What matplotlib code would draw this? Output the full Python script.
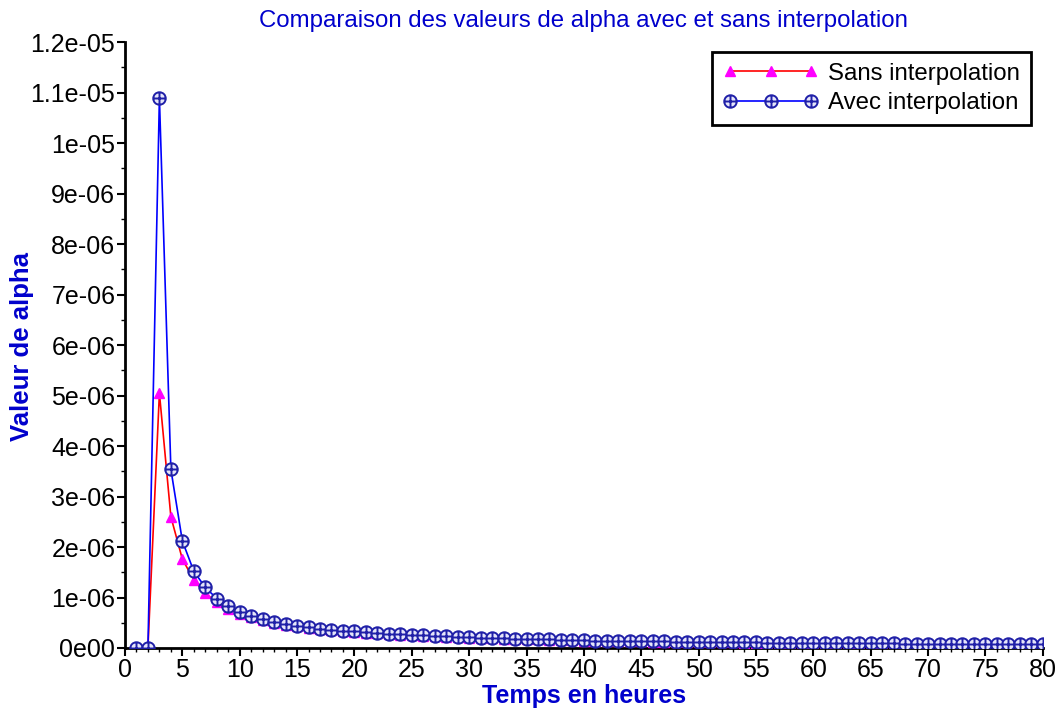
import matplotlib
matplotlib.use("Agg")
import matplotlib.pyplot as plt
import numpy as np
from matplotlib.path import Path
from matplotlib.ticker import MultipleLocator, FuncFormatter

# hours 1..80, alpha values in units of 1e-6
hours = list(range(1, 81))

alpha_sans = [
    0.0, 0.0, 5.05, 2.60, 1.76, 1.35, 1.08, 0.91, 0.77, 0.68,
    0.61, 0.555, 0.50, 0.46, 0.43, 0.40, 0.375, 0.352, 0.333, 0.318,
    0.305, 0.29, 0.277, 0.265, 0.255, 0.245, 0.235, 0.226, 0.217, 0.207,
    0.201, 0.196, 0.186, 0.181, 0.176, 0.171, 0.166, 0.156, 0.151, 0.146,
    0.143, 0.140, 0.137, 0.134, 0.131, 0.128, 0.125, 0.122, 0.119, 0.116,
    0.114, 0.112, 0.110, 0.108, 0.106, 0.104, 0.102, 0.100, 0.098, 0.096,
    0.094, 0.092, 0.091, 0.090, 0.088, 0.086, 0.085, 0.084, 0.082, 0.081,
    0.080, 0.079, 0.078, 0.077, 0.076, 0.075, 0.074, 0.073, 0.072, 0.071,
]

alpha_avec = [
    0.0, 0.0, 10.9, 3.54, 2.12, 1.52, 1.20, 0.98, 0.83, 0.72,
    0.63, 0.57, 0.51, 0.47, 0.44, 0.41, 0.38, 0.36, 0.34, 0.335,
    0.32, 0.30, 0.285, 0.27, 0.26, 0.25, 0.24, 0.23, 0.22, 0.21,
    0.205, 0.20, 0.19, 0.185, 0.18, 0.175, 0.17, 0.16, 0.155, 0.15,
    0.147, 0.144, 0.141, 0.138, 0.135, 0.132, 0.129, 0.126, 0.123, 0.12,
    0.118, 0.116, 0.114, 0.112, 0.11, 0.108, 0.106, 0.104, 0.102, 0.10,
    0.098, 0.096, 0.095, 0.094, 0.092, 0.09, 0.089, 0.088, 0.086, 0.085,
    0.084, 0.083, 0.082, 0.081, 0.08, 0.079, 0.078, 0.077, 0.076, 0.075,
]

x_ticks = list(range(0, 81, 5))
y_max = 1.2e-5

plt.rcParams["font.family"] = ["Liberation Sans", "DejaVu Sans"]

# circle with a plus inside
circ = Path.unit_circle()
cross = Path([(-1, 0), (1, 0), (0, -1), (0, 1)],
             [Path.MOVETO, Path.LINETO, Path.MOVETO, Path.LINETO])
oplus = Path.make_compound_path(circ, cross)

fig = plt.figure(figsize=(10.61, 7.16), dpi=100)
ax = fig.add_axes([0.1178, 0.095, 0.865, 0.846])

ys = np.array(alpha_sans) * 1e-6
ya = np.array(alpha_avec) * 1e-6

ax.plot(hours, ys, color="#ff0000", lw=1.2, marker="^", markersize=6.5,
        mfc="#ff00ff", mec="#ff00ff", label="Sans interpolation", zorder=3)
ax.plot(hours, ya, color="#0000ff", lw=1.2, marker=oplus, markersize=9,
        mfc="#e6e6fa", mec="#2020a8", mew=1.4, label="Avec interpolation", zorder=4)

ax.set_xlim(0, 80)
ax.set_ylim(0, y_max)
ax.set_xticks(x_ticks)
ax.yaxis.set_major_locator(MultipleLocator(1e-6))
ax.yaxis.set_minor_locator(MultipleLocator(0.5e-6))
ax.xaxis.set_minor_locator(MultipleLocator(1))


def sci_fmt(v, pos):
    if abs(v) < 1e-12:
        return "0e00"
    m, e = f"{v:.1e}".split("e")
    m = m.rstrip("0").rstrip(".")
    return f"{m}e-{abs(int(e)):02d}"


ax.yaxis.set_major_formatter(FuncFormatter(sci_fmt))

for s in ["top", "right"]:
    ax.spines[s].set_visible(False)
for s in ["left", "bottom"]:
    ax.spines[s].set_linewidth(2)

ax.tick_params(which="major", direction="out", length=6, width=1.5,
               labelsize=18, pad=1)
ax.tick_params(which="minor", direction="out", length=3, width=1)

ax.set_title("Comparaison des valeurs de alpha avec et sans interpolation",
             color="#0000cc", fontsize=17.3, pad=11)
ax.set_xlabel("Temps en heures", color="#0000cc", fontsize=18,
              fontweight="bold", labelpad=2)
fig.text(22 / 1061, 1 - 346 / 716, "Valeur de alpha", color="#0000cc",
         fontsize=18.5, fontweight="bold", rotation=90, ha="center", va="center")

leg = ax.legend(loc="upper right", bbox_to_anchor=(1031 / 1061, 1 - 52 / 716),
                bbox_transform=fig.transFigure, borderaxespad=0, fontsize=17.3,
                numpoints=3, handlelength=4.0, fancybox=False, framealpha=1,
                edgecolor="black", handletextpad=0.4, labelspacing=0.3,
                borderpad=0.45)
leg.get_frame().set_linewidth(2)

fig.savefig("out.png", dpi=100)
